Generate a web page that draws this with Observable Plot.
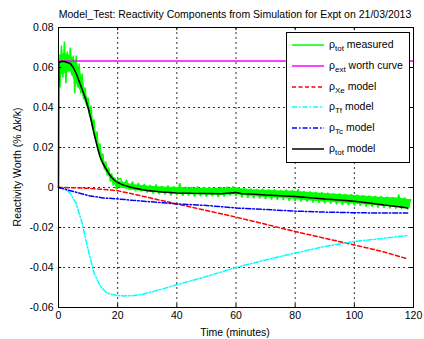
<!DOCTYPE html>
<html><head><meta charset="utf-8">
<script src="https://cdn.jsdelivr.net/npm/d3@7"></script>
<script src="https://cdn.jsdelivr.net/npm/@observablehq/plot@0.6"></script>
<style>
body{margin:0;background:#fff;}
#wrap{position:relative;width:424px;height:339px;font-family:"Liberation Sans",Arial,sans-serif;color:#000;}
#title{position:absolute;left:35px;width:400px;top:8px;text-align:center;font-size:10.5px;line-height:12px;white-space:nowrap;}
#xlab{position:absolute;left:135px;width:200px;top:326px;text-align:center;font-size:10.5px;line-height:12px;}
#ylab{position:absolute;left:17px;top:167px;font-size:10.5px;line-height:12px;white-space:nowrap;transform:translate(-50%,-50%) rotate(-90deg);}
#legend{position:absolute;left:286px;top:32px;width:122px;height:129px;border:1px solid #000;background:#fff;}
.row{position:absolute;left:4px;height:16px;font-size:10.5px;line-height:16px;white-space:nowrap;}
.row svg{position:absolute;left:0;top:0;}
.row span{position:absolute;left:38px;top:-1px;}
sub{font-size:8px;vertical-align:-3px;line-height:0;}
</style></head>
<body>
<div id="wrap">
<div id="title">Model_Test: Reactivity Components from Simulation for Expt on 21/03/2013</div>
<div id="ylab">Reactivity Worth (% Δk/k)</div>
<div id="xlab">Time (minutes)</div>
</div>
<script>
const xTicks = [0, 20, 40, 60, 80, 100, 120];
const yTicks = [-0.06, -0.04, -0.02, 0, 0.02, 0.04, 0.06, 0.08];

// rho_tot measured (green): sampled noisy trace
const measT = [0,0.5,1,1.5,2,2.5,3,3.5,4,4.5,5,5.5,6,6.5,7,7.5,8,8.5,9,9.5,10,10.5,11,11.5,12,12.5,13,13.5,14,14.5,15,15.5,16,16.5,17,17.5,18,18.5,19,19.5,20,
21,22,23,24,25,26,27,28,29,30,31,32,33,34,35,36,37,38,39,40,41,42,43,44,45,46,47,48,49,50,51,52,53,54,55,56,57,58,59,60,61,62,63,64,65,66,67,68,69,70,71,72,73,74,75,76,77,78,79,80,81,82,83,84,85,86,87,88,89,90,91,92,93,94,95,96,97,98,99,100,101,102,103,104,105,106,107,108,109,110,111,112,113,114,115,116,117,118,119];
const measV = [0.060,0.050,0.071,0.055,0.073,0.052,0.068,0.058,0.070,0.056,0.066,0.047,0.066,0.050,0.062,0.047,0.057,0.044,0.050,0.041,0.045,0.036,0.041,0.030,0.034,0.024,0.028,0.018,0.022,0.013,0.017,0.009,0.013,0.006,0.010,0.003,0.007,0.001,0.005,-0.001,0.004,
0.0045,0.0005,0.0038,-0.0012,0.0030,-0.0018,0.0022,-0.0020,0.0018,-0.0025,0.0012,-0.0030,0.0015,-0.0033,0.0008,-0.0035,0.0010,-0.0040,0.0006,-0.0038,0.0022,-0.0042,0.0004,-0.0040,0.0002,-0.0045,0.0005,-0.0042,0.0000,-0.0046,0.0003,-0.0044,-0.0002,-0.0048,0.0002,-0.0045,0.0004,-0.0040,0.0006,-0.0042,0.0000,-0.0050,-0.0004,-0.0052,-0.0005,-0.0054,-0.0008,-0.0055,-0.0006,-0.0058,-0.0010,-0.0060,-0.0009,-0.0062,-0.0012,-0.0063,-0.0010,-0.0066,-0.0014,-0.0068,-0.0008,-0.0070,-0.0018,-0.0072,-0.0020,-0.0075,-0.0022,-0.0077,-0.0024,-0.0080,-0.0026,-0.0082,-0.0028,-0.0084,-0.0030,-0.0086,-0.0032,-0.0088,-0.0034,-0.0090,-0.0036,-0.0092,-0.0038,-0.0095,-0.0040,-0.0097,-0.0042,-0.0100,-0.0044,-0.0102,-0.0046,-0.0104,-0.0048,-0.0106,-0.0035,-0.0108,-0.0050,-0.0110,-0.0060];
// measured noise envelope (inner band)
const bandT  = [0,2,4,6,8,10,12,14,16,18,20,25,30,35,40,45,50,55,60,65,70,75,80,85,90,95,100,105,110,115,119];
const bandLo = [0.056,0.057,0.058,0.052,0.047,0.039,0.027,0.016,0.008,0.003,0.0000,-0.0014,-0.0022,-0.0027,-0.0032,-0.0036,-0.0038,-0.0039,-0.0036,-0.0044,-0.0050,-0.0054,-0.0060,-0.0067,-0.0072,-0.0078,-0.0082,-0.0089,-0.0094,-0.0098,-0.0102];
const bandHi = [0.066,0.067,0.066,0.063,0.055,0.043,0.031,0.020,0.011,0.006,0.0032,0.0015,0.0007,0.0002,0.0000,-0.0003,-0.0004,-0.0004,-0.0003,-0.0011,-0.0014,-0.0017,-0.0019,-0.0025,-0.0030,-0.0035,-0.0040,-0.0045,-0.0050,-0.0052,-0.0061];

// rho_ext worth curve (magenta)
const extT = [0, 120];
const extV = [0.0632, 0.0632];

// model components
const modT = [0,5,10,15,20,25,30,40,50,60,70,80,90,100,110,118];
const xeV  = [0,-0.0001,-0.0004,-0.0009,-0.0016,-0.0032,-0.0049,-0.0082,-0.0115,-0.0148,-0.0184,-0.0220,-0.0254,-0.0287,-0.0322,-0.0357];
const tcV  = [0,-0.0020,-0.0040,-0.0052,-0.0057,-0.0064,-0.0070,-0.0082,-0.0090,-0.0102,-0.0110,-0.0118,-0.0123,-0.0126,-0.0128,-0.0128];
const tfT  = [0,2,4,6,8,10,12,14,16,18,20,22,25,28,30,35,40,50,60,70,80,90,100,110,118];
const tfV  = [0,-0.0003,-0.003,-0.008,-0.018,-0.031,-0.0426,-0.049,-0.0524,-0.0535,-0.0540,-0.0542,-0.0541,-0.0535,-0.0528,-0.0508,-0.0486,-0.0445,-0.0400,-0.0362,-0.0328,-0.0295,-0.0270,-0.0254,-0.0240];

// rho_tot model (black)
const totT = [0,0.1,1,2,3,4,5,6,7,8,9,10,11,12,13,14,15,16,17,18,19,20,22,24,26,28,30,35,40,45,50,55,58,60,62,65,70,75,80,85,90,95,100,105,110,115,118];
const totV = [0,0.0625,0.063,0.063,0.0625,0.062,0.060,0.057,0.053,0.049,0.045,0.040,0.034,0.027,0.021,0.0155,0.012,0.0095,0.007,0.005,0.0035,0.0025,0.0012,0.0003,-0.0004,-0.001,-0.0015,-0.0022,-0.0027,-0.0029,-0.003,-0.0031,-0.0028,-0.0025,-0.0031,-0.0033,-0.0038,-0.0041,-0.0045,-0.0051,-0.0057,-0.0062,-0.0069,-0.0077,-0.0087,-0.0096,-0.0103];

const legendLabels = [["ρ","tot"," measured"],["ρ","ext"," worth curve"],["ρ","Xe"," model"],["ρ","Tf"," model"],["ρ","Tc"," model"],["ρ","tot"," model"]];
const colors = ["#00ff00","#ff00ff","#ff0000","#00ffff","#0000ff","#000000"];
const dashes = ["none","none","4,2.5","5,2,1.5,2","5,2,1.5,2","none"];

const pts = (T, V) => T.map((t, i) => ({t, v: V[i]}));
const series = [pts(measT, measV), pts(extT, extV), pts(modT, xeV), pts(tfT, tfV), pts(modT, tcV), pts(totT, totV)];
const band = bandT.map((t, i) => ({t, lo: bandLo[i], hi: bandHi[i]}));
const fmt = d => d === 0 ? "0" : d.toFixed(2);
const xIn = xTicks.slice(1, -1), yIn = yTicks.slice(1, -1);
const yMin = yTicks[0], yMax = yTicks[yTicks.length - 1], xMin = xTicks[0], xMax = xTicks[xTicks.length - 1];

const chart = Plot.plot({
  width: 424, height: 339,
  marginLeft: 58, marginRight: 11, marginTop: 27, marginBottom: 32,
  style: {background: "transparent", fontFamily: '"Liberation Sans", Arial, sans-serif', fontSize: "10.5px", color: "#000"},
  x: {domain: [xMin, xMax]},
  y: {domain: [yMin, yMax]},
  marks: [
    Plot.ruleX(xIn, {x: d => d, stroke: "#000", strokeWidth: 0.8, strokeDasharray: "2,3"}),
    Plot.ruleY(yIn, {y: d => d, stroke: "#000", strokeWidth: 0.8, strokeDasharray: "2,3"}),
    Plot.areaY(band, {x: "t", y1: "lo", y2: "hi", fill: colors[0]}),
    ...series.map((s, i) => Plot.line(s, {x: "t", y: "v", stroke: colors[i], strokeWidth: 1.5, strokeDasharray: dashes[i], strokeLinejoin: "miter"})),
    // inward tick marks on all four sides
    Plot.ruleX(xIn, {x: d => d, y1: yMin, y2: yMin + 0.0016, stroke: "#000"}),
    Plot.ruleX(xIn, {x: d => d, y1: yMax, y2: yMax - 0.0016, stroke: "#000"}),
    Plot.ruleY(yIn, {y: d => d, x1: xMin, x2: xMin + 1.1, stroke: "#000"}),
    Plot.ruleY(yIn, {y: d => d, x1: xMax, x2: xMax - 1.1, stroke: "#000"}),
    Plot.frame({stroke: "#000", strokeWidth: 1}),
    Plot.axisX({ticks: xTicks, tickSize: 0, tickPadding: 4, tickFormat: d => String(d), label: null}),
    Plot.axisY({ticks: yTicks, tickSize: 0, tickPadding: 5, tickFormat: fmt, label: null})
  ]
});
const wrap = document.getElementById("wrap");
chart.style.position = "absolute"; chart.style.left = "0"; chart.style.top = "0";
wrap.insertBefore(chart, wrap.firstChild);

const leg = document.createElement("div");
leg.id = "legend";
legendLabels.forEach((lab, i) => {
  const row = document.createElement("div");
  row.className = "row";
  row.style.top = (4 + i * 20.8) + "px";
  row.innerHTML = `<svg width="34" height="16"><line x1="1" x2="33" y1="8" y2="8" stroke="${colors[i]}" stroke-width="1.5" ${dashes[i] !== "none" ? `stroke-dasharray="${dashes[i]}"` : ""}/></svg><span>${lab[0]}<sub>${lab[1]}</sub>${lab[2]}</span>`;
  leg.appendChild(row);
});
wrap.appendChild(leg);
</script>
</body></html>
